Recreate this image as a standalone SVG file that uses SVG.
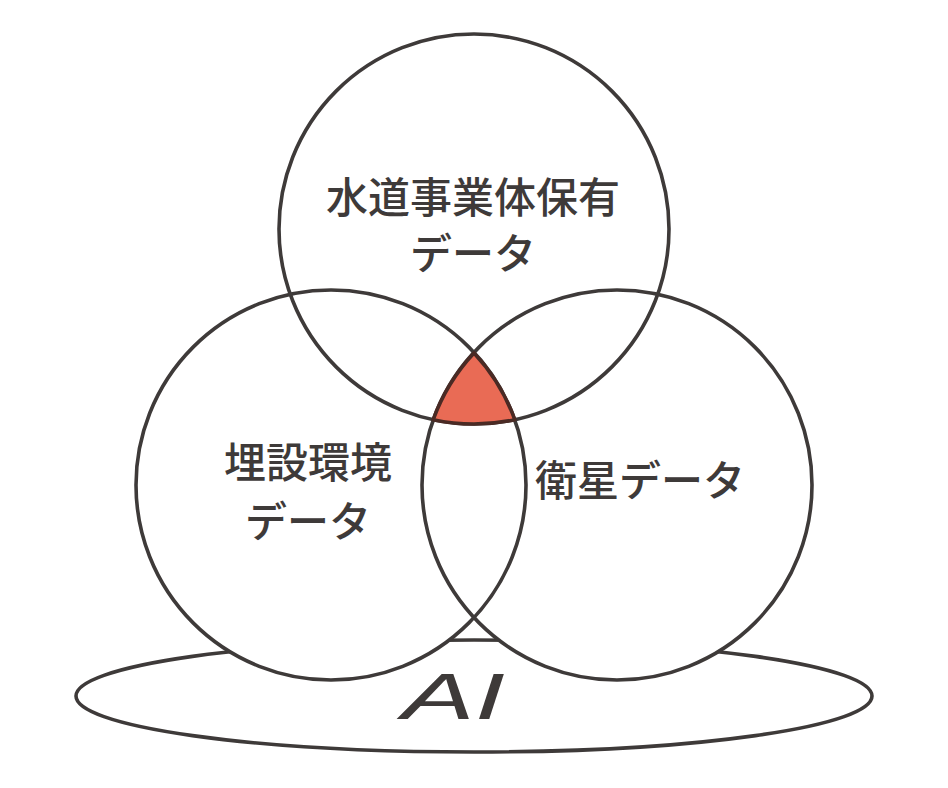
<svg xmlns="http://www.w3.org/2000/svg" width="948" height="788" viewBox="0 0 948 788">
<style>
.line{fill:none;stroke:#3e3a39;stroke-width:3.6}
.lbl{font-family:"Noto Sans CJK JP","Noto Sans",sans-serif;font-size:42px;font-weight:500;fill:#3e3a39;text-anchor:middle}
.ai{font-family:"Liberation Sans",Arial,sans-serif;font-style:italic;font-size:65px;fill:#3e3a39}
</style>
<rect width="948" height="788" fill="#ffffff"/>
<g id="ai-base">
<ellipse cx="474" cy="696" rx="398" ry="56" class="line"/>
<text class="ai" x="402" y="719" textLength="103" lengthAdjust="spacingAndGlyphs">AI</text>
</g>
<g id="mask">
<circle cx="474" cy="229" r="195" fill="#fff"/>
<circle cx="331" cy="485" r="195" fill="#fff"/>
<circle cx="617" cy="485" r="195" fill="#fff"/>
</g>
<g id="top-circle">
<circle cx="474" cy="229" r="195" class="line"/>
<text class="lbl" x="473" y="213">水道事業体保有</text>
<text class="lbl" x="473" y="269">データ</text>
</g>
<g id="left-circle">
<circle cx="331" cy="485" r="195" class="line"/>
<text class="lbl" x="308" y="478">埋設環境</text>
<text class="lbl" x="308" y="537">データ</text>
</g>
<g id="right-circle">
<circle cx="617" cy="485" r="195" class="line"/>
<text class="lbl" x="640" y="496">衛星データ</text>
</g>
<g id="intersection">
<path d="M474,353 A195,195 0 0 0 433.2,419.7 A195,195 0 0 0 514.8,419.7 A195,195 0 0 0 474,353 Z" fill="#e96b55" stroke="#4a2a24" stroke-width="3.6" stroke-linejoin="round"/>
</g>
</svg>
